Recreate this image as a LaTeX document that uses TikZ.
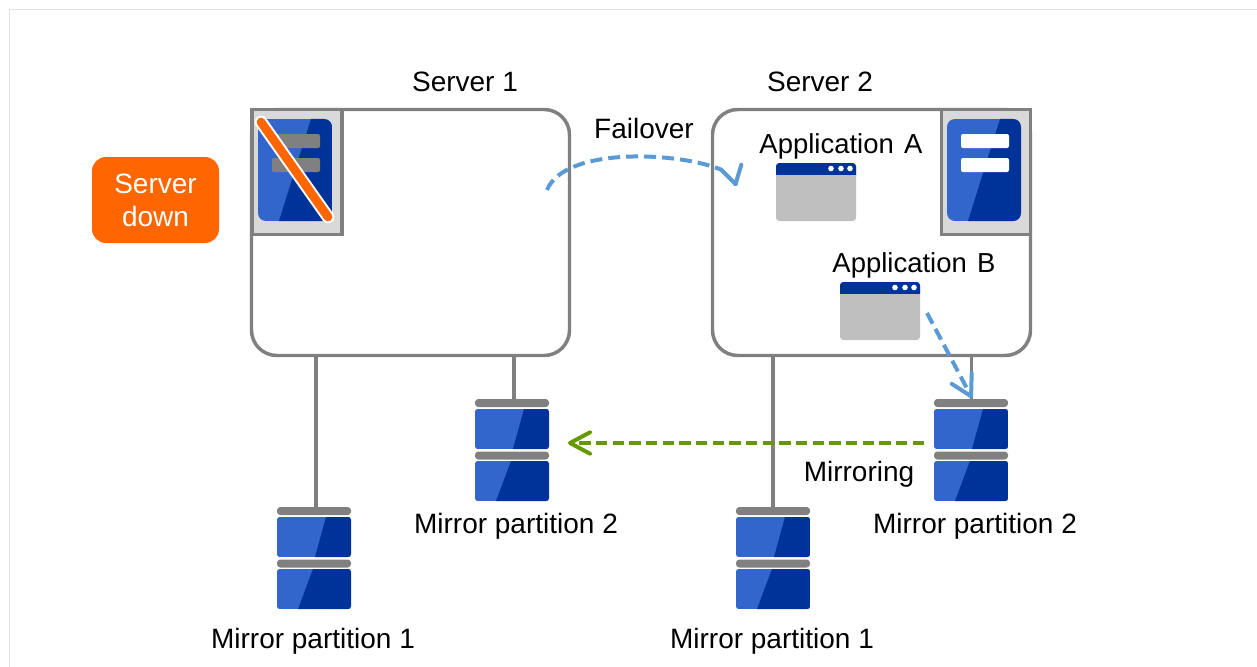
\documentclass[tikz,border=0pt]{standalone}
\usepackage{fontspec}
\setmainfont{Liberation Sans}
\usetikzlibrary{arrows.meta,calc}
\definecolor{ltblue}{HTML}{3366CC}
\definecolor{dkblue}{HTML}{003399}
\definecolor{midgray}{HTML}{808080}
\definecolor{panelgray}{HTML}{D9D9D9}
\definecolor{wingray}{HTML}{BFBFBF}
\definecolor{downorange}{HTML}{FF6600}
\definecolor{arrowblue}{HTML}{5B9BD5}
\definecolor{arrowgreen}{HTML}{669900}
\definecolor{framegray}{HTML}{E2E2E2}
\tikzset{
  x=0.75pt,y=-0.75pt,
  label text/.style={font=\fontsize{21pt}{25pt}\selectfont,text=black,inner sep=0pt,align=center},
  app text/.style={font=\fontsize{20.6pt}{25pt}\selectfont,text=black,inner sep=0pt,align=center},
  serverbox/.style={draw=midgray,line width=2.6pt,fill=white,rounded corners=19pt,minimum width=238.5pt,minimum height=184.5pt,inner sep=0pt},
  stackbox/.style={inner sep=0pt,minimum width=55.5pt,minimum height=76.5pt},
  winbox/.style={inner sep=0pt,minimum width=60pt,minimum height=43.5pt},
  panelbox/.style={draw=midgray,line width=2.6pt,fill=panelgray,inner sep=0pt,minimum height=94pt},
  wire/.style={draw=midgray,line width=2.6pt},
  bluedash/.style={draw=arrowblue,line width=3pt,dash pattern=on 9pt off 4.5pt},
  bluearrow/.style={bluedash,-{Straight Barb[round,length=15pt,width=17pt,line width=3pt]}},
  bluehead/.style={draw=arrowblue,line width=3pt,-{Straight Barb[round,length=13pt,width=15.5pt,line width=3pt]}},
  greenarrow/.style={draw=arrowgreen,line width=3pt,dash pattern=on 8.5pt off 4pt,-{Straight Barb[round,length=15pt,width=16pt,line width=3pt]}},
}
% disk: left x, top y, dark top x, dark bottom x
\newcommand{\diskbody}[4]{%
  \begin{scope}
    \clip[rounded corners=2pt] (#1,#2) rectangle ++(74,40);
    \fill[ltblue] (#1,#2) rectangle ++(74,40);
    \fill[dkblue] ($(#1,#2)+(#3,0)$) -- ($(#1,#2)+(74,0)$) -- ($(#1,#2)+(74,40)$) -- ($(#1,#2)+(#4,40)$) -- cycle;
  \end{scope}}
\newcommand{\diskstack}[3]{% name, centre x, top y
  \fill[midgray,rounded corners=2.5pt] ($(#2,#3)+(-37,0)$) rectangle ++(74,8);
  \diskbody{\numexpr#2-37\relax}{\numexpr#3+10\relax}{49}{38}
  \fill[midgray,rounded corners=2.5pt] ($(#2,#3)+(-37,52.5)$) rectangle ++(74,8);
  \diskbody{\numexpr#2-37\relax}{\numexpr#3+62\relax}{36}{21}
}
\newcommand{\appwin}[3]{% name, left x, top y
  \node[winbox] (#1) at (#2+40,#3+29) {};
  \fill[wingray,rounded corners=2.5pt] (#2,#3) rectangle ++(80,58);
  \begin{scope}
    \clip (#2,#3) rectangle ++(80,11);
    \fill[dkblue,rounded corners=2.5pt] (#2,#3) rectangle ++(80,20);
  \end{scope}
  \foreach \d in {55,65,74}{\fill[white] ($(#2,#3)+(\d,5.5)$) circle (2.1pt);}
}
\newcommand{\srvicon}[2]{% left x, bar colour
  \begin{scope}
    \clip[rounded corners=6pt] (#1,119) rectangle ++(74,102);
    \fill[ltblue] (#1,119) rectangle ++(74,102);
    \fill[dkblue] ($(#1,119)+(53,0)$) -- ($(#1,119)+(74,0)$) -- ($(#1,119)+(74,102)$) -- ($(#1,119)+(21,102)$) -- cycle;
  \end{scope}
  \fill[#2,rounded corners=1.5pt] ($(#1,134)+(14,0)$) rectangle ++(48,14);
  \fill[#2,rounded corners=1.5pt] ($(#1,158)+(14,0)$) rectangle ++(48,14);
}
\begin{document}
\begin{tikzpicture}
\useasboundingbox (0,0) rectangle (1257,667);
% frame
\draw[framegray,line width=1.2pt] (9.5,667) -- (9.5,9.5) -- (1257,9.5);

\node[serverbox] (srvA) at (410.5,232.5) {};
\node[serverbox] (srvB) at (871.5,232.5) {};

\node[stackbox] (stA2) at (512,450) {};
\node[stackbox] (stA1) at (314,558) {};
\node[stackbox] (stB1) at (773,558) {};
\node[stackbox] (stB2) at (971,450) {};
\draw[wire] ([xshift=1.5pt]stA1.north |- srvA.south) -- ([xshift=1.5pt]stA1.north);
\draw[wire] ([xshift=1.5pt]stA2.north |- srvA.south) -- ([xshift=1.5pt]stA2.north);
\draw[wire] (stB1.north |- srvB.south) -- (stB1.north);
\draw[wire] ([xshift=0.5pt]stB2.north |- srvB.south) -- ([xshift=0.5pt]stB2.north);

\diskstack{dA2}{512}{399}
\diskstack{dA1}{314}{507}
\diskstack{dB1}{773}{507}
\diskstack{dB2}{971}{399}

% server panels
\node[panelbox,minimum width=67.5pt] (panA) at (297,172) {};
\node[panelbox,minimum width=66.5pt] (panB) at (986,172) {};
\srvicon{258}{midgray}
\srvicon{947}{white}
\draw[white,line width=9.5pt,line cap=round] (261,122) -- (328,217);
\draw[downorange,line width=6.5pt,line cap=round] (261,122) -- (328,217);

% down badge
\node[fill=downorange,rounded corners=10.5pt,minimum width=95.25pt,minimum height=64.5pt,inner sep=0pt,text=white,align=center,font=\fontsize{21pt}{24.75pt}\selectfont] (down) at (155.5,200) {\raisebox{-1.5pt}{Server}\\\raisebox{-1.5pt}{down}};

% apps
\appwin{appA}{776}{163}
\appwin{appB}{840}{282}

% labels
\node[label text] (lblS1) at (465,82) {Server 1};
\node[label text] (lblS2) at (820,82) {Server 2};
\node[label text] (lblF) at (644,128) {Failover};
\node[app text] (lblA) at (841,146) {Application\hspace{.1em} A};
\node[app text] (lblB) at (914,265) {Application\hspace{.1em} B};
\node[label text] (lblM) at (859,474) {Mirroring};
\node[label text] (lblP2a) at (516,526) {Mirror partition 2};
\node[label text] (lblP2b) at (975,526) {Mirror partition 2};
\node[label text] (lblP1a) at (313,641) {Mirror partition 1};
\node[label text] (lblP1b) at (772,641) {Mirror partition 1};

% arrows
\coordinate (foStart) at (547,190);
\coordinate (foBarb) at (722,170);
\coordinate (foTipBack) at (735.9,185.6);
\coordinate (foTip) at (736,186);
\draw[bluedash] (foStart) .. controls (565,146) and (680,152) .. (foBarb);
\draw[bluehead] (foTipBack) -- (foTip);
\coordinate (mirStart) at (927,313);
\coordinate (mirTip) at (972,398);
\draw[bluearrow] (mirStart) -- (mirTip);
\coordinate (grStart) at (924,443);
\coordinate (grEnd) at (568,443);
\draw[greenarrow] (grStart) -- (grEnd);
\end{tikzpicture}
\end{document}
